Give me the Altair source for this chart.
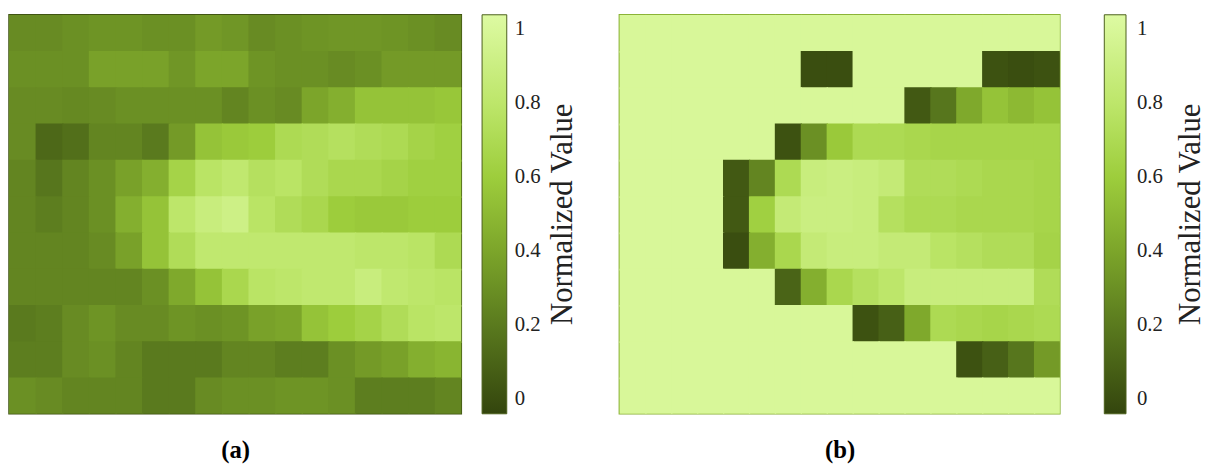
import altair as alt
import pandas as pd

# ---- panel (a): 11 rows x 17 columns, normalized values (top row first)
a_r00 = [0.28, 0.28, 0.30, 0.32, 0.32, 0.30, 0.30, 0.35, 0.33, 0.28, 0.30, 0.32, 0.33, 0.33, 0.32, 0.30, 0.28]
a_r01 = [0.30, 0.30, 0.30, 0.38, 0.38, 0.38, 0.33, 0.40, 0.40, 0.32, 0.30, 0.30, 0.28, 0.30, 0.35, 0.35, 0.35]
a_r02 = [0.28, 0.28, 0.27, 0.28, 0.30, 0.30, 0.30, 0.30, 0.25, 0.30, 0.28, 0.40, 0.45, 0.55, 0.55, 0.55, 0.57]
a_r03 = [0.28, 0.12, 0.15, 0.25, 0.25, 0.20, 0.35, 0.55, 0.58, 0.60, 0.70, 0.72, 0.75, 0.72, 0.70, 0.65, 0.62]
a_r04 = [0.25, 0.18, 0.25, 0.30, 0.38, 0.45, 0.65, 0.78, 0.82, 0.75, 0.78, 0.72, 0.68, 0.68, 0.65, 0.62, 0.62]
a_r05 = [0.25, 0.22, 0.25, 0.30, 0.45, 0.55, 0.80, 0.88, 0.92, 0.78, 0.72, 0.68, 0.60, 0.58, 0.58, 0.60, 0.60]
a_r06 = [0.25, 0.25, 0.25, 0.28, 0.38, 0.55, 0.72, 0.82, 0.82, 0.82, 0.82, 0.82, 0.82, 0.80, 0.80, 0.78, 0.70]
a_r07 = [0.25, 0.25, 0.25, 0.25, 0.25, 0.30, 0.42, 0.55, 0.68, 0.78, 0.80, 0.82, 0.82, 0.88, 0.82, 0.80, 0.78]
a_r08 = [0.20, 0.22, 0.28, 0.32, 0.28, 0.28, 0.32, 0.30, 0.32, 0.38, 0.40, 0.55, 0.60, 0.65, 0.72, 0.78, 0.80]
a_r09 = [0.22, 0.22, 0.28, 0.30, 0.25, 0.20, 0.20, 0.20, 0.25, 0.25, 0.22, 0.22, 0.30, 0.35, 0.38, 0.45, 0.48]
a_r10 = [0.30, 0.28, 0.25, 0.25, 0.25, 0.20, 0.20, 0.28, 0.30, 0.30, 0.32, 0.32, 0.30, 0.22, 0.22, 0.22, 0.25]

# ---- panel (b): 11 rows x 17 columns (1 = background)
b_r00 = [1, 1, 1, 1, 1, 1, 1, 1, 1, 1, 1, 1, 1, 1, 1, 1, 1]
b_r01 = [1, 1, 1, 1, 1, 1, 1, 0.00, 0.00, 1, 1, 1, 1, 1, 0.02, 0.00, 0.02]
b_r02 = [1, 1, 1, 1, 1, 1, 1, 1, 1, 1, 1, 0.05, 0.18, 0.42, 0.55, 0.50, 0.55]
b_r03 = [1, 1, 1, 1, 1, 1, 0.02, 0.30, 0.58, 0.70, 0.70, 0.68, 0.66, 0.66, 0.66, 0.66, 0.66]
b_r04 = [1, 1, 1, 1, 0.05, 0.25, 0.70, 0.88, 0.90, 0.88, 0.85, 0.72, 0.72, 0.70, 0.68, 0.68, 0.66]
b_r05 = [1, 1, 1, 1, 0.05, 0.62, 0.85, 0.90, 0.90, 0.88, 0.75, 0.70, 0.70, 0.68, 0.68, 0.68, 0.66]
b_r06 = [1, 1, 1, 1, 0.00, 0.45, 0.68, 0.85, 0.88, 0.88, 0.85, 0.85, 0.78, 0.75, 0.72, 0.72, 0.65]
b_r07 = [1, 1, 1, 1, 1, 1, 0.10, 0.45, 0.68, 0.75, 0.80, 0.88, 0.88, 0.88, 0.88, 0.88, 0.72]
b_r08 = [1, 1, 1, 1, 1, 1, 1, 1, 1, 0.02, 0.08, 0.42, 0.70, 0.68, 0.66, 0.68, 0.70]
b_r09 = [1, 1, 1, 1, 1, 1, 1, 1, 1, 1, 1, 1, 1, 0.02, 0.08, 0.18, 0.35]
b_r10 = [1, 1, 1, 1, 1, 1, 1, 1, 1, 1, 1, 1, 1, 1, 1, 1, 1]

legend_ticks = [0, 0.2, 0.4, 0.6, 0.8, 1]
legend_title = "Normalized Value"
panel_labels = ["(a)", "(b)"]

rows_a = [a_r00, a_r01, a_r02, a_r03, a_r04, a_r05, a_r06, a_r07, a_r08, a_r09, a_r10]
rows_b = [b_r00, b_r01, b_r02, b_r03, b_r04, b_r05, b_r06, b_r07, b_r08, b_r09, b_r10]
N_ROWS = len(rows_a)
N_COLS = len(a_r00)


def to_df(rows):
    recs = []
    for r, row in enumerate(rows):
        for c, v in enumerate(row):
            recs.append({"row": r, "col": c, "value": v})
    return pd.DataFrame(recs)


SERIF = "'Liberation Serif', 'Times New Roman', Times, serif"


def color_scale():
    return alt.Scale(
        type="linear",
        domain=[-0.04, 0.2, 0.4, 0.6, 0.8, 1.04],
        range=["#33450D", "#5A7A1E", "#7CA52A", "#9DCD3C", "#BDE66A", "#DDFAA2"],
        interpolate="rgb",
    )


def panel(df, label, width, plot_stroke, leg_offset, leg_thick, lab_offset, title_x):
    legend = alt.Legend(
        type="gradient",
        title=None,
        values=legend_ticks,
        format=".1~f",
        orient="right",
        offset=leg_offset,
        direction="vertical",
        gradientLength=404,
        gradientThickness=leg_thick,
        gradientStrokeColor="#4A5E1A",
        gradientStrokeWidth=1,
        labelFont=SERIF,
        labelFontSize=21,
        labelColor="#222222",
        labelOffset=lab_offset,
        labelOverlap=False,
    )
    # each cell spans [col, col+1) x [row, row+1); a hair of overlap hides seams
    heat = (
        alt.Chart(df)
        .transform_calculate(
            x0="datum.col", x1="datum.col + 1.05",
            y0="datum.row", y1="datum.row + 1.05",
        )
        .mark_rect(strokeWidth=0, clip=True)
        .encode(
            x=alt.X(
                "x0:Q",
                scale=alt.Scale(domain=[0, N_COLS], nice=False, zero=False),
                axis=alt.Axis(
                    labels=False, ticks=False, domain=False, grid=False, title=label,
                    titleFont=SERIF, titleFontSize=25, titleFontWeight="bold",
                    titleColor="#000000", titlePadding=24,
                ),
            ),
            x2="x1:Q",
            y=alt.Y(
                "y0:Q",
                scale=alt.Scale(domain=[0, N_ROWS], nice=False, zero=False, reverse=True),
                axis=None,
            ),
            y2="y1:Q",
            color=alt.Color("value:Q", scale=color_scale(), legend=legend),
        )
    )
    title = (
        alt.Chart(pd.DataFrame({"t": [legend_title]}))
        .mark_text(angle=270, font=SERIF, fontSize=31, color="#222222",
                   align="center", baseline="middle")
        .encode(x=alt.value(title_x), y=alt.value(202), text="t:N")
    )
    return alt.layer(heat, title).properties(
        width=width,
        height=404,
        view=alt.ViewBackground(stroke=plot_stroke, strokeWidth=1.5),
    )


chart_a = panel(to_df(rows_a), panel_labels[0], 458, "#3E5112", 21, 25, 8, 561)
chart_b = panel(to_df(rows_b), panel_labels[1], 446, "#86AE30", 45, 22, 11, 579)

chart = (
    alt.hconcat(chart_a, chart_b, spacing=40)
    .resolve_scale(color="independent")
    .resolve_legend(color="independent")
    .properties(padding={"left": 0, "top": 3, "right": 0, "bottom": 0}, background="white")
)

chart.save("out.html", embed_options={"renderer": "svg", "actions": False})
